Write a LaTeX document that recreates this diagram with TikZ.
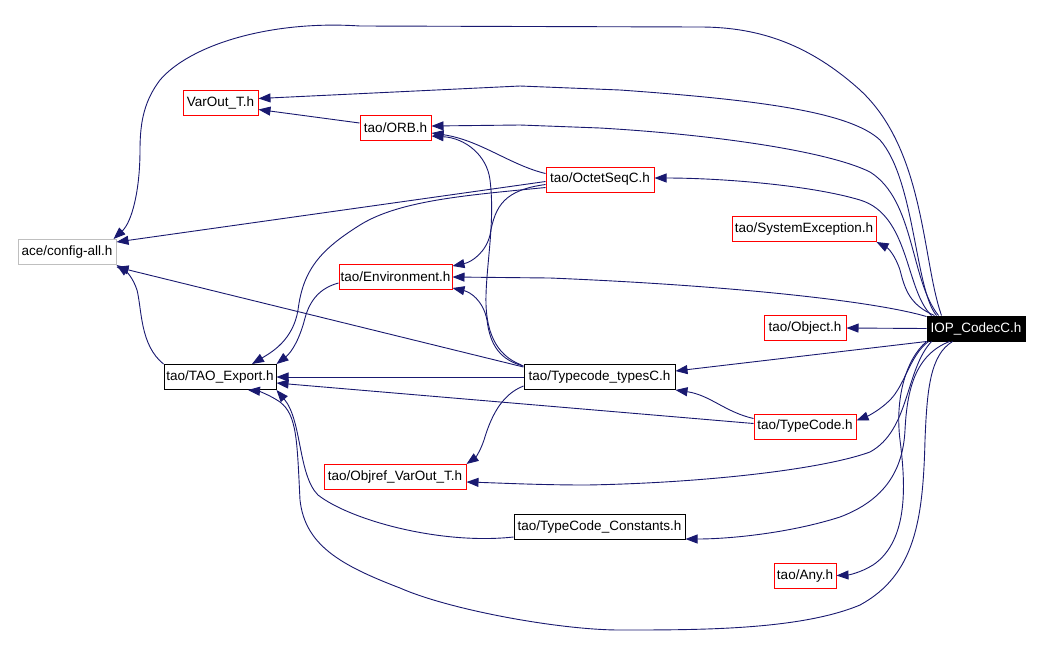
\documentclass[tikz,border=0pt]{standalone}
\usepackage{fontspec}
\setmainfont{Liberation Sans}
\usetikzlibrary{arrows.meta,calc}
\definecolor{edgeblue}{HTML}{191970}
\definecolor{boxred}{HTML}{FF0000}
\definecolor{boxgray}{HTML}{BFBFBF}
\tikzset{
  filebox/.style={draw=boxred, line width=1pt, inner sep=0pt, minimum height=25pt, align=center, font=\fontsize{13.5}{15}\selectfont},
  plainbox/.style={filebox, draw=black},
  greybox/.style={filebox, draw=boxgray},
  rootbox/.style={filebox, draw=black, fill=black, text=white},
  dep/.style={draw=edgeblue, line width=0.9pt, -{Triangle[length=12pt,width=9pt]}, color=edgeblue},
}
\begin{document}
\begin{tikzpicture}[x=1pt,y=-1pt]
\useasboundingbox[fill=white] (0,0) rectangle (1043,670);
% nodes
\node[filebox, minimum width=75pt]  (varout)   at (220.5,102.5) {VarOut\_T.h};
\node[filebox, minimum width=71pt]  (orb)      at (395.5,128)   {tao/ORB.h};
\node[greybox, minimum width=98pt]  (config)   at (67,252)      {ace/config-all.h};
\node[filebox, minimum width=113pt] (env)      at (395.5,277)   {tao/Environment.h};
\node[filebox, minimum width=108pt] (octet)    at (600,179.5)   {tao/OctetSeqC.h};
\node[filebox, minimum width=144pt] (sysexc)   at (804,229)     {tao/SystemException.h};
\node[filebox, minimum width=82pt]  (object)   at (805,328)     {tao/Object.h};
\node[rootbox, minimum width=98pt]  (iop)      at (976,328.5)   {IOP\_CodecC.h};
\node[plainbox, minimum width=112pt] (taoexp)  at (220,377)     {tao/TAO\_Export.h};
\node[plainbox, minimum width=151pt] (tctypes) at (599.5,377)   {tao/Typecode\_typesC.h};
\node[filebox, minimum width=102pt] (typecode) at (805,426.5)   {tao/TypeCode.h};
\node[filebox, minimum width=142pt] (objref)   at (395,477)     {tao/Objref\_VarOut\_T.h};
\node[plainbox, minimum width=171pt] (tcconst) at (599.5,527)   {tao/TypeCode\_Constants.h};
\node[filebox, minimum width=62pt]  (any)      at (805,575.5)   {tao/Any.h};
% edges from IOP_CodecC.h
\draw[dep] ($(iop.north west)+(15,0)$) .. controls (922,260) and (925,150) .. (860,90)
   .. controls (810,45) and (760,27) .. (700,27) -- (360,26)
   .. controls (270,20) and (190,45) .. (160,80) .. controls (145,100) and (140,120) .. (140,150)
   .. controls (140,190) and (132,222) .. ($(config.north east)+(-3,0)$);
\draw[dep] ($(iop.north west)+(10,0)$) .. controls (915,290) and (915,180) .. (880,140)
   .. controls (850,112) and (760,100) .. (620,90) -- (520,86) -- ($(varout.east)+(0,-4)$);
\draw[dep] ($(iop.north west)+(12,0)$) .. controls (910,280) and (915,200) .. (870,172)
   .. controls (830,152) and (720,135) .. (600,128) -- (520,125) -- ($(orb.east)+(0,-2)$);
\draw[dep] ($(iop.north west)+(5,0)$) .. controls (905,290) and (910,215) .. (860,200)
   .. controls (810,185) and (720,178) .. ($(octet.east)+(0,-1.5)$);
\draw[dep] ($(iop.north west)+(8,0)$) .. controls (910,305) and (905,290) .. (900,270)
   .. controls (895,255) and (888,248) .. ($(sysexc.south east)+(0,0)$);
\draw[dep] ($(iop.north west)+(0,1)$) .. controls (870,300) and (720,285) .. (550,278) -- (env.east);
\draw[dep] (iop.west) -- (object.east);
\draw[dep] (iop.south west) -- ($(tctypes.east)+(0,-6)$);
\draw[dep] ($(iop.south west)+(2,0)$) .. controls (910,355) and (905,385) .. (890,400)
   .. controls (880,410) and (868,416) .. ($(typecode.east)+(0,-6)$);
\draw[dep] ($(iop.south west)+(5,0)$) .. controls (905,370) and (910,430) .. (870,452)
   .. controls (820,470) and (700,483) .. (587,485) .. controls (540,485) and (500,483) .. ($(objref.east)+(0,5)$);
\draw[dep] ($(iop.south west)+(23,0)$) .. controls (915,355) and (907,390) .. (905,430)
   .. controls (903,470) and (885,500) .. (840,517) .. controls (790,533) and (730,539) .. ($(tcconst.south east)+(0,-1)$);
\draw[dep] ($(iop.south west)+(0,0)$) .. controls (905,360) and (895,400) .. (900,440)
   .. controls (905,480) and (910,540) .. (873,565) .. controls (860,573) and (848,575) .. (any.east);
\draw[dep] ($(iop.south west)+(26,0)$) .. controls (930,355) and (927,390) .. (925,440)
   .. controls (923,520) and (915,575) .. (860,605) .. controls (800,630) and (700,630) .. (620,630)
   .. controls (560,630) and (450,610) .. (400,588) .. controls (340,565) and (305,545) .. (300,500)
   .. controls (297,440) and (297,415) .. (280,402) .. controls (270,395) and (258,391) .. ($(taoexp.south)+(28,0)$);
% edges from tao/ORB.h
\draw[dep] ($(orb.west)+(0,-5)$) -- ($(varout.east)+(0,7)$);
% edges from tao/OctetSeqC.h
\draw[dep] ($(octet.west)+(0,-6)$) .. controls (510,165) and (480,140) .. ($(orb.south east)+(0,-8)$);
\draw[dep] ($(octet.west)+(0,2)$) -- ($(config.north east)+(0,3)$);
\draw[dep] ($(octet.west)+(0,5)$) .. controls (505,190) and (495,205) .. (490,235)
   .. controls (486,252) and (472,262) .. ($(env.north east)+(0,2)$);
\draw[dep] ($(octet.west)+(0,8)$) .. controls (470,195) and (400,200) .. (360,225)
   .. controls (320,250) and (303,270) .. (298,310) .. controls (293,340) and (272,352) .. ($(taoexp.north)+(32,0)$);
% edges from tao/Environment.h
\draw[dep] ($(env.west)+(0,6)$) .. controls (320,288) and (310,300) .. (305,318)
   .. controls (300,338) and (292,352) .. (taoexp.north east);
% edges from tao/TAO_Export.h
\draw[dep] (taoexp.north west) .. controls (140,345) and (142,310) .. (137,290)
   .. controls (133,278) and (127,272) .. (config.south east);
% edges from tao/Typecode_typesC.h
\draw[dep] ($(tctypes.north west)+(0,3)$) -- ($(config.south east)+(0,2)$);
\draw[dep] (tctypes.west) -- (taoexp.east);
\draw[dep] ($(tctypes.north west)+(0,2)$) .. controls (500,360) and (490,345) .. (487,320)
   .. controls (483,300) and (470,292) .. ($(env.south east)+(0,-2)$);
\draw[dep] ($(tctypes.north west)+(-2,1)$) .. controls (495,355) and (485,330) .. (486,295)
   .. controls (487,260) and (495,220) .. (490,180) .. controls (487,155) and (465,138) .. ($(orb.south east)+(0,-5)$);
\draw[dep] ($(tctypes.south west)+(0,-4)$) .. controls (500,395) and (490,420) .. (484,440)
   .. controls (480,452) and (475,458) .. (objref.north east);
% edges from tao/TypeCode.h
\draw[dep] ($(typecode.west)+(0,-8)$) .. controls (725,412) and (710,395) .. (tctypes.south east);
\draw[dep] ($(typecode.west)+(0,-3)$) -- ($(taoexp.east)+(0,6)$);
% edges from tao/TypeCode_Constants.h
\draw[dep] ($(tcconst.south west)+(0,-3)$) .. controls (440,545) and (350,520) .. (318,495)
   .. controls (298,475) and (302,420) .. (taoexp.south east);
\end{tikzpicture}
\end{document}
